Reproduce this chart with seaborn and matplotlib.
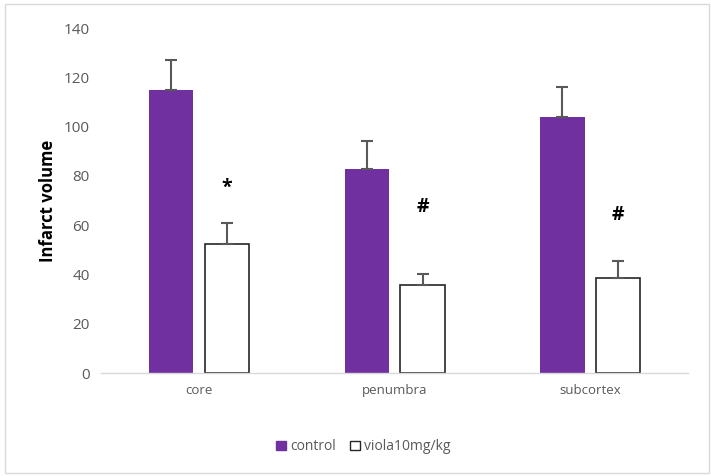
import pandas as pd
import matplotlib.pyplot as plt
import seaborn as sns
from matplotlib.patches import Rectangle

regions = ['core', 'penumbra', 'subcortex']
groups = ['control', 'viola10mg/kg']
control_mean = [115, 83, 104]
control_err = [12, 11, 12]
viola_mean = [52.5, 35.7, 38.8]
viola_err = [8.5, 4.4, 6.6]
marks = ['*', '#', '#']
mark_y = [75, 67.5, 64]

df = pd.DataFrame({
    'region': regions * 2,
    'group': [groups[0]] * 3 + [groups[1]] * 3,
    'volume': control_mean + viola_mean,
})

sns.set_style('white')
plt.rcParams['font.family'] = ['Open Sans', 'DejaVu Sans']

fig = plt.figure(figsize=(7.11, 4.76), dpi=100)
ax = fig.add_axes([0.142, 0.216, 0.826, 0.725])

sns.barplot(data=df, x='region', y='volume', hue='group', order=regions, hue_order=groups,
            palette={'control': '#7030A0', 'viola10mg/kg': 'white'}, saturation=1,
            width=0.57, gap=0.21, errorbar=None, ax=ax)

for bar in ax.containers[0]:
    bar.set_edgecolor('#7030A0')
    bar.set_linewidth(0)
for bar in ax.containers[1]:
    bar.set_edgecolor('#262626')
    bar.set_linewidth(1.2)

# upper-only error bars
for cont, means, errs in [(ax.containers[0], control_mean, control_err),
                          (ax.containers[1], viola_mean, viola_err)]:
    xs = [b.get_x() + b.get_width() / 2 for b in cont]
    ax.errorbar(xs, means, yerr=[[0] * len(errs), errs], fmt='none',
                ecolor='#595959', elinewidth=1.5, capsize=4, capthick=1.5, zorder=1)

xs_v = [b.get_x() + b.get_width() / 2 for b in ax.containers[1]]
for x, y, m in zip(xs_v, mark_y, marks):
    ax.text(x, y, m, ha='center', va='center', fontsize=14, fontweight='bold', color='black')

ax.set_ylim(0, 140)
ax.set_xlim(-0.5, 2.5)
ax.set_yticks(range(0, 141, 20))
ax.set_xlabel('')
ax.set_ylabel('Infarct volume', fontsize=12, fontweight='bold', color='black', labelpad=5)
ax.tick_params(axis='both', length=0, labelcolor='#595959')
ax.tick_params(axis='x', pad=8, labelsize=9.5)
ax.tick_params(axis='y', pad=8, labelsize=11)
for s in ['top', 'right', 'left']:
    ax.spines[s].set_visible(False)
ax.spines['bottom'].set_color('#d9d9d9')
ax.spines['bottom'].set_linewidth(1)

sns.move_legend(ax, 'center', bbox_to_anchor=(0.511, 0.061), bbox_transform=fig.transFigure,
                ncol=2, frameon=False, title=None, fontsize=10, handlelength=0.7,
                handleheight=0.7, handletextpad=0.3, columnspacing=1.0)
leg = ax.get_legend()
for t in leg.get_texts():
    t.set_color('#595959')
hs = leg.legend_handles
hs[0].set_edgecolor('#7030A0')
hs[1].set_edgecolor('#262626')
hs[1].set_linewidth(1)

fig.patches.append(Rectangle((0.007, 0.006), 0.99, 0.985, transform=fig.transFigure,
                             fill=False, edgecolor='#d9d9d9', linewidth=1))

fig.savefig('out.png', dpi=100)
